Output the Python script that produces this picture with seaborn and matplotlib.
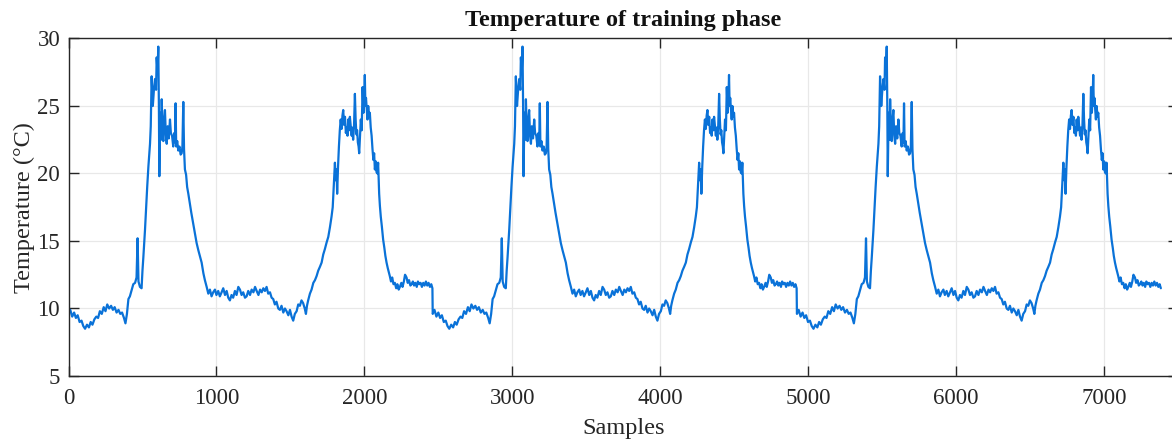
import numpy as np
import pandas as pd
import matplotlib
matplotlib.use("Agg")
import matplotlib.pyplot as plt
import seaborn as sns

# ---- data (one daily cycle, repeated three times in the record) ----
cycle_period = 2462  # samples per repeated cycle
n_cycles = 3

cycle_samples = [
    0, 12, 25, 38, 50, 62, 75, 88, 100, 112, 125, 138, 150, 162, 175, 188, 200, 212, 225, 238,
    250, 262, 275, 288, 300, 312, 325, 338, 350, 362, 375, 385, 395, 405, 415, 425, 438, 450, 460, 467,
    473, 483, 494, 500, 506, 517, 525, 532, 540, 551, 556, 562, 570, 578, 585, 592, 596, 602, 607, 611,
    614, 620, 626, 630, 636, 641, 646, 652, 658, 664, 670, 678, 686, 692, 700, 708, 715, 720, 724, 728,
    735, 742, 750, 758, 765, 770, 776, 781, 787, 795, 802, 810, 820, 830, 843, 855, 866, 878, 890, 900,
    912, 922, 934, 945, 956, 967, 978, 990, 1000, 1012, 1023, 1035, 1046, 1058, 1069, 1080, 1091, 1102, 1113, 1125,
    1136, 1148, 1159, 1170, 1181, 1193, 1204, 1215, 1227, 1238, 1250, 1261, 1272, 1284, 1295, 1306, 1317, 1328, 1339, 1350,
    1362, 1373, 1384, 1395, 1406, 1418, 1429, 1440, 1452, 1463, 1474, 1486, 1497, 1508, 1519, 1530, 1542, 1553, 1564, 1575,
    1586, 1597, 1605, 1612, 1620, 1632, 1643, 1655, 1666, 1677, 1688, 1700, 1711, 1722, 1733, 1745, 1756, 1767, 1778, 1786,
    1793, 1801, 1806, 1812, 1816, 1822, 1828, 1834, 1840, 1846, 1852, 1857, 1863, 1869, 1875, 1880, 1886, 1891, 1896, 1902,
    1908, 1914, 1919, 1924, 1930, 1936, 1941, 1946, 1951, 1956, 1961, 1965, 1970, 1976, 1982, 1988, 1994, 2000, 2003, 2007,
    2011, 2015, 2021, 2026, 2032, 2037, 2043, 2049, 2055, 2061, 2066, 2071, 2077, 2082, 2088, 2093, 2097, 2100, 2105, 2111,
    2118, 2127, 2135, 2142, 2150, 2158, 2165, 2172, 2180, 2188, 2197, 2206, 2215, 2223, 2232, 2240, 2250, 2258, 2267, 2275,
    2285, 2293, 2302, 2311, 2319, 2328, 2336, 2345, 2354, 2362, 2371, 2380, 2389, 2398, 2407, 2416, 2425, 2434, 2443, 2452,
    2460,
]

cycle_temps = [
    9.6, 9.9, 9.4, 9.7, 9.3, 9.5, 9.0, 9.1, 8.7, 8.5, 8.8, 8.6, 9.0, 8.8, 9.2, 9.4, 9.3, 9.8, 9.6, 10.1,
    9.8, 10.3, 10.0, 10.2, 9.9, 10.1, 9.7, 9.9, 9.6, 9.7, 9.3, 8.9, 9.6, 10.7, 10.9, 11.3, 11.8, 11.9, 12.3, 15.2,
    12.0, 11.6, 11.5, 12.8, 13.8, 15.8, 17.5, 19.0, 20.5, 22.2, 23.5, 27.2, 25.0, 26.3, 27.0, 26.2, 28.6, 27.5, 29.4, 25.0,
    19.8, 24.5, 22.5, 25.5, 23.0, 22.4, 24.0, 24.7, 22.8, 22.2, 23.5, 22.6, 24.0, 23.0, 22.8, 22.0, 23.0, 22.3, 25.2, 22.0,
    22.4, 21.7, 22.0, 21.4, 21.5, 22.0, 25.3, 21.8, 20.3, 19.9, 19.0, 18.5, 17.8, 17.1, 16.3, 15.6, 14.85, 14.3, 13.8, 13.4,
    12.6, 12.1, 11.6, 11.1, 11.4, 10.9, 11.2, 11.4, 11.0, 11.3, 10.9, 11.2, 11.5, 11.0, 11.3, 10.8, 10.6, 11.0, 10.8, 11.3,
    11.0, 11.6, 11.4, 11.0, 11.2, 10.8, 10.9, 11.3, 11.0, 11.4, 11.2, 11.6, 11.3, 11.0, 11.4, 11.2, 11.5, 11.3, 11.6, 11.1,
    11.2, 10.8, 10.7, 10.3, 10.5, 10.0, 9.9, 10.2, 9.7, 10.0, 9.8, 9.5, 9.9, 9.4, 9.1, 9.6, 9.8, 10.3, 10.2, 10.6,
    10.4, 10.0, 9.6, 10.2, 10.6, 11.1, 11.4, 11.9, 12.1, 12.4, 12.8, 13.1, 13.4, 14.0, 14.4, 14.9, 15.3, 16.0, 16.8, 17.5,
    19.0, 20.8, 19.5, 20.3, 18.5, 20.5, 22.0, 23.2, 24.0, 23.3, 24.3, 24.7, 23.6, 24.2, 23.0, 23.4, 22.8, 24.0, 23.2, 24.2,
    23.5, 22.8, 23.4, 22.5, 23.5, 25.9, 24.0, 22.9, 23.2, 22.3, 22.0, 21.5, 22.6, 24.0, 23.2, 26.4, 24.5, 26.0, 27.3, 25.0,
    25.6, 24.95, 24.0, 25.0, 24.2, 24.5, 23.4, 22.8, 21.8, 21.0, 21.5, 20.3, 20.9, 20.1, 20.0, 20.8, 19.5, 18.5, 17.6, 16.8,
    16.1, 15.1, 14.5, 13.9, 13.4, 13.0, 12.7, 12.4, 12.0, 12.3, 11.8, 11.9, 11.5, 11.8, 11.4, 11.6, 11.9, 11.6, 12.0, 12.5,
    12.3, 11.9, 12.1, 11.7, 11.8, 12.0, 11.7, 11.9, 11.6, 12.0, 11.8, 11.9, 11.6, 11.9, 11.7, 12.0, 11.7, 11.9, 11.6, 11.8,
    11.5,
]

x_ticks = [0, 1000, 2000, 3000, 4000, 5000, 6000, 7000]
y_ticks = [5, 10, 15, 20, 25, 30]
title_text = "Temperature of training phase"
x_label = "Samples"
y_label = "Temperature (°C)"

# ---- build the full record from the repeated cycle ----
samples = np.concatenate([np.array(cycle_samples) + k * cycle_period for k in range(n_cycles)])
temps = np.concatenate([np.array(cycle_temps) for _ in range(n_cycles)])
df = pd.DataFrame({"Samples": samples, "Temperature": temps})

# ---- style ----
sns.set_theme(style="white")
plt.rcParams["font.family"] = ["Liberation Serif", "DejaVu Serif"]

fig = plt.figure(figsize=(11.72, 4.40), dpi=100)
ax = fig.add_axes([68.5 / 1172, 1 - 376 / 440, (1178 - 68.5) / 1172, (376 - 38.5) / 440])

sns.lineplot(data=df, x="Samples", y="Temperature", ax=ax, color="#0a72d8",
             linewidth=1.6, estimator=None, sort=False)

ax.set_xlim(0, 7500)
ax.set_ylim(5, 30)
ax.set_xticks(x_ticks)
ax.set_yticks(y_ticks)
ax.set_xticklabels([str(t) for t in x_ticks])
ax.set_yticklabels([str(t) for t in y_ticks])

ax.grid(True, color="#e8e8e8", linewidth=0.9)
ax.set_axisbelow(True)
for s in ax.spines.values():
    s.set_color("#262626")
    s.set_linewidth(1.0)
    s.set_visible(True)

ax.tick_params(axis="both", which="both", direction="in", length=7, width=1.0,
               color="#262626", top=True, right=True, bottom=True, left=True,
               labelsize=16.5, labelcolor="#262626")
ax.tick_params(axis="x", pad=9)
ax.tick_params(axis="y", pad=6)

ax.set_title(title_text, fontsize=17.5, fontweight="bold", color="#111111", pad=9)
ax.set_xlabel(x_label, fontsize=17.5, color="#262626", labelpad=6)
ax.set_ylabel(y_label, fontsize=17.5, color="#262626", labelpad=2)

fig.savefig("out.png", dpi=100)
